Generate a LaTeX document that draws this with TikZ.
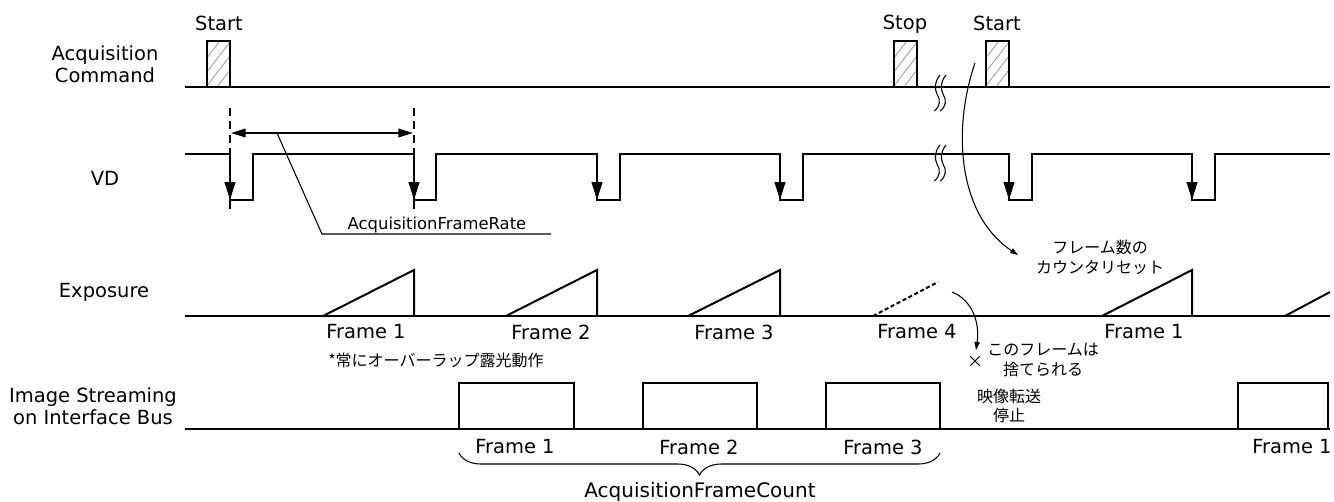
\documentclass[tikz,border=0pt]{standalone}
\usepackage{fontspec}
\setmainfont{DejaVu Sans}
\newfontfamily\jp{Noto Sans CJK JP}
\usetikzlibrary{arrows.meta,decorations.pathreplacing}

\newcommand\hpulse[2]{%
  \begin{scope}
    \clip (#1,41) rectangle ++(23,46);
    \foreach \k in {0,...,5}{
      \draw[gray!80,line width=0.6pt] ({#1-4},{105-\k*14}) -- ++(40,-52);
    }
  \end{scope}
  \draw[sig] (#1,87) |- ({#1+23},41) -- ({#1+23},87);
  \coordinate (#2) at ({#1+11.5},41);
}
\newcommand\brk[1]{%
  \draw[thinl] (940,{#1}) .. controls (935,{#1+6}) and (934,{#1+13}) .. (937,{#1+19}) .. controls (941,{#1+25}) and (940,{#1+32}) .. (934,{#1+36});
  \draw[thinl] (946,{#1}) .. controls (941,{#1+6}) and (940,{#1+13}) .. (943,{#1+19}) .. controls (947,{#1+25}) and (946,{#1+32}) .. (940,{#1+36});
}

\begin{document}
\begin{tikzpicture}[x=0.75pt,y=-0.75pt,
  sig/.style={line width=1.5pt},
  thinl/.style={line width=0.8pt},
  lbl/.style={font=\fontsize{14.6}{16.5}\selectfont, inner sep=0pt, align=center},
  jptext/.style={font=\jp\fontsize{12}{15}\selectfont, inner sep=0pt, align=center},
  vdarrow/.style={line width=1.5pt,-{Triangle[length=13.5pt,width=8pt]}}]

\useasboundingbox[fill=white] (0,0) rectangle (1334,501);

% ---------- left labels ----------
\node[lbl] (lacq) at (105,64) {Acquisition\\Command};
\node[lbl] (lvd) at (105,178) {VD};
\node[lbl] (lexp) at (104,292) {Exposure};
\node[lbl] (lstr) at (93,406) {Image Streaming\\on Interface Bus};

% ---------- Acquisition Command ----------
\hpulse{207}{p1}
\hpulse{894}{p2}
\hpulse{986}{p3}
\draw[sig] (185,87) -- (1330,87);
\node[lbl] (st1) at (219,23) {Start};
\node[lbl] (stp) at (905,24) {Stop};
\node[lbl] (st2) at (997,23) {Start};
\brk{75}

% ---------- VD ----------
\draw[sig] (185,154) -- (230,154) -- (230,200) -- (253,200) -- (253,154)
  -- (414,154) -- (414,200) -- (436,200) -- (436,154)
  -- (597,154) -- (597,200) -- (620,200) -- (620,154)
  -- (780,154) -- (780,200) -- (803,200) -- (803,154)
  -- (1009,154) -- (1009,200) -- (1032,200) -- (1032,154)
  -- (1192,154) -- (1192,200) -- (1215,200) -- (1215,154) -- (1330,154);
\foreach \xx in {230,414,597,780,1009,1192}{
  \draw[vdarrow] (\xx,154) -- (\xx,200);
}
\brk{145}

% frame rate dimension
\coordinate (d1t) at (230,108);
\coordinate (d1b) at (230,213);
\coordinate (d2t) at (414,108);
\coordinate (d2b) at (414,213);
\draw[thinl,dash pattern=on 6pt off 4pt] (d1t) -- (d1b);
\draw[thinl,dash pattern=on 6pt off 4pt] (d2t) -- (d2b);
\coordinate (da1) at (231,133);
\coordinate (da2) at (413,133);
\draw[line width=1.1pt,{Triangle[length=11pt,width=6.5pt]}-{Triangle[length=11pt,width=6.5pt]}] (da1) -- (da2);
\coordinate (ldA) at (277,133);
\coordinate (ldB) at (322,234);
\coordinate (ldC) at (551,234);
\draw[thinl] (ldA) -- (ldB) -- (ldC);
\node[font=\fontsize{12.3}{14}\selectfont, inner sep=0pt, anchor=base] (afr) at (437,229) {AcquisitionFrameRate};

% ---------- Exposure ----------
\draw[sig] (185,316) -- (1330,316);
\draw[sig] (323,316) -- (414,270) -- (414,316);
\draw[sig] (506,316) -- (597,270) -- (597,316);
\draw[sig] (688,316) -- (780,270) -- (780,316);
\draw[sig,dash pattern=on 3pt off 2pt] (873,316) -- (938,282);
\draw[sig,dash pattern=on 2pt off 1.5pt] (873,316) -- (940,316);
\draw[sig] (1102,316) -- (1192,270) -- (1192,316);
\draw[sig] (1285,316) -- (1330,292);

\node[lbl] (ef1) at (366,332) {Frame 1};
\node[lbl] (ef2) at (551,332) {Frame 2};
\node[lbl] (ef3) at (734,332) {Frame 3};
\node[lbl] (ef4) at (917,332) {Frame 4};
\node[lbl] (ef5) at (1144,332) {Frame 1};
\node[jptext, anchor=west] (ovl) at (328,360) {*常にオーバーラップ露光動作};

% ---------- Image streaming ----------
\draw[sig] (185,429) -- (1330,429);
\draw[sig] (459,429) |- (574,383) -- (574,429);
\draw[sig] (643,429) |- (757,383) -- (757,429);
\draw[sig] (826,429) |- (940,383) -- (940,429);
\draw[sig] (1238,429) |- (1328,383) -- (1328,429);

\node[lbl] (sf1) at (515,447) {Frame 1};
\node[lbl] (sf2) at (699,447) {Frame 2};
\node[lbl] (sf3) at (883,447) {Frame 3};
\node[lbl] (sf4) at (1292,447) {Frame 1};

% brace
\coordinate (brL) at (459,453);
\coordinate (brR) at (940,453);
\draw[thinl,decorate,decoration={brace,mirror,amplitude=16.5pt}] (brL) -- (brR);
\node[font=\fontsize{15}{17}\selectfont, inner sep=0pt] (afc) at (700,492) {AcquisitionFrameCount};

% ---------- annotations ----------
\node[jptext] (rst) at (1100,257) {フレーム数の\\カウンタリセット};
\coordinate (c1s) at (975,63);
\coordinate (c1e) at (1018,255);
\draw[thinl,-{Triangle[length=6pt,width=4pt]}] (c1s) .. controls (952,130) and (958,215) .. (c1e);

\node[jptext] (dis) at (1043,360) {このフレームは\\捨てられる};
\node[font=\jp\fontsize{12}{14}\selectfont, inner sep=0pt] (xm) at (975,362) {×};
\coordinate (c2s) at (952,292);
\coordinate (c2e) at (976,350);
\draw[thinl,-{Triangle[length=6pt,width=4pt]}] (c2s) .. controls (972,300) and (980,322) .. (c2e);

\node[font=\jp\fontsize{12}{13.9}\selectfont, inner sep=0pt, align=center] (stop) at (1009,406) {映像転送\\停止};

\end{tikzpicture}
\end{document}
